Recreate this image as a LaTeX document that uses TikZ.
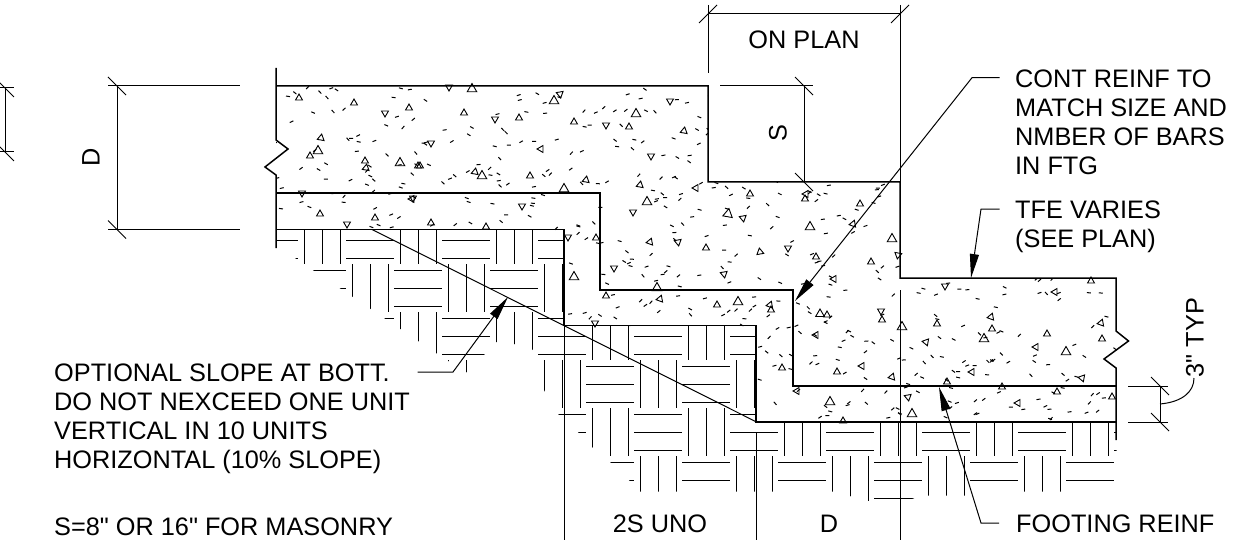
\documentclass[tikz,border=0pt]{standalone}
\usepackage{fontspec}
\setmainfont[Ligatures=TeXOff]{Liberation Sans}
\usetikzlibrary{arrows.meta}
\tikzset{
    outline/.style={line width=1.5pt},
    rebar/.style={line width=2.6pt},
    thin line/.style={line width=1pt},
    soil/.style={line width=1pt},
    chip/.style={line width=1pt},
    stone/.style={line width=0.9pt},
    leader/.style={line width=1pt,-{Triangle[length=24pt,width=9pt]}},
    note/.style={anchor=north west,inner sep=0pt,align=left,font=\fontsize{25.3}{29}\selectfont},
    label/.style={inner sep=0pt,font=\fontsize{25.3}{29}\selectfont}
}

\begin{document}
\begin{tikzpicture}[x=1pt,y=-1pt]
    \clip (0,0) rectangle (1244,540);

    % Concrete chips
    \pgfmathsetseed{417}
    \begin{scope}
        \clip (276,86) -- (708,86) -- (708,182) -- (900,182) -- (900,278) -- (1116,278) -- (1116,422) -- (756,422) -- (756,326) -- (564,326) -- (564,230) -- (276,230) -- cycle;
        \foreach \n in {1,...,820}{
            \pgfmathsetmacro{\cx}{265+851*rnd}
            \pgfmathsetmacro{\cy}{86+336*rnd}
            \pgfmathsetmacro{\ca}{-50+100*rnd}
            \draw[chip] (\cx,\cy) -- ++(\ca:4);
        }
    \end{scope}

    % Concrete stones
    \foreach \x/\y/\s/\r in {299/98/4/90,354/103/4/90,385/113/4/30,409/108/4/90,321/138/4/80,318/151/5.5/90,310/156/4/90,
        365/161/4/90,366/168/4/80,400/163/5.5/90,418/166/4/90,302/193/4/30,412/199/4/60,320/214/4/90,347/224/4/30,375/218/4/90,
        449/87/4/30,472/89/5.5/90,560/94/4/40,554/101/5.5/90,670/101/4/30,464/113/4/90,495/119/4/30,519/118/4/90,574/122/4/90,
        606/125/4/30,636/114/5.5/90,629/127/4/90,684/131/4/80,431/143/4/30,541/149/4/60,651/156/4/30,420/166/4/90,475/172/4/80,
        482/176/5.5/90,530/176/4/90,586/180/4/80,564/189/5.5/90,640/185/4/80,696/188/4/60,647/202/5.5/90,633/212/4/30,413/198/4/30,
        522/206/4/30,431/223/4/90,486/227/4/90,750/194/4/90,728/214/5.5/80,743/218/4/40,568/237/4/30,596/238/4/90,650/242/4/70,
        678/242/4/40,706/248/4/90,760/252/4/100,788/248/4/30,614/268/4/30,574/277/5.5/90,724/274/4/40,657/288/5.5/90,606/296/4/90,
        660/299/4/70,717/305/4/90,738/302/5.5/90,770/305/4/70,771/310/4/90,595/323/4/30,806/194/4/60,805/199/4/90,810/227/5.5/90,
        860/204/4/90,853/224/4/70,892/239/5.5/90,816/257/4/90,871/262/4/90,898/255/4/20,834/279/4/60,945/286/4/30,1091/281/4/90,
        1055/292/4/60,820/314/5/90,827/315/4/90,881/311/4/30,882/320/4/90,902/327/5.5/90,816/335/4/60,937/324/4/90,991/317/4/70,
        992/329/4/90,1047/334/4/90,1101/323/4/70,1102/339/4/90,926/342/4/50,984/339/5.5/90,1036/347/4/60,1066/352/5.5/90,782/368/4/90,
        837/372/4/90,862/366/4/60,892/377/4/70,972/372/4/60,947/382/4/90,1082/378/4/50,1002/387/4/90,797/391/4/60,908/397/4/40,
        1057/392/4/90,1112/397/4/90,830/402/5.5/90,1018/403/4/60,912/414/5.5/90,843/421/4/90}{
        \draw[stone] ({\x+\s*cos(\r)},{\y-\s*sin(\r)}) -- ({\x+\s*cos(\r+120)},{\y-\s*sin(\r+120)}) -- ({\x+\s*cos(\r+240)},{\y-\s*sin(\r+240)}) -- cycle;
    }

    % Soil hatch
    \begin{scope}
        \clip (276,230) -- (564,230) -- (564,325.5) -- (756,325.5) -- (756,422) -- (1116.5,422) -- (1116.5,491.7) -- (985,491.7) -- (970,495.5) -- (920,495.5) -- (911,499.5) -- (867,501) -- (835,491.7) -- (640,491.7) -- (628,479) -- (609,461) -- (592,447) -- (577,431) -- (557,413) -- (540,383) -- (540,360) -- (536,354) -- (532,349) -- (514,344) -- (496,342) -- (484,355) -- (466,372.5) -- (436,353) -- (295,258) -- (276,245) -- cycle;
        \foreach \i in {0,...,9}{
            \foreach \j in {0,1,2}{
                \begin{scope}[shift={({96*\i},{96*\j})}]
                    \foreach \k in {0,18,36}{
                        \draw[soil] (208+\k,216) -- (208+\k,264);
                        \draw[soil] (256+\k,264) -- (256+\k,312);
                        \draw[soil] (250,222+\k) -- (298,222+\k);
                        \draw[soil] (298,270+\k) -- (346,270+\k);
                    }
                \end{scope}
            }
        }
    \end{scope}

    % Footing outline
    \draw[outline] (276,68) -- (276,140) -- (288,149) -- (265,167) -- (276,175) -- (276,248);
    \draw[outline] (276,86) -- (708,86) -- (708,182) -- (900,182) -- (900,278) -- (1116,278) -- (1116,331) -- (1128.5,341) -- (1104,359) -- (1116,368) -- (1116,440);
    \draw[outline] (276,229.5) -- (564,229.5) -- (564,325.5) -- (756,325.5) -- (756,422) -- (1116,422);
    \draw[thin line] (372,229.5) -- (756,421.7);

    % Reinforcing
    \draw[rebar] (276,193) -- (600,193) -- (600,290) -- (793,290) -- (793,386) -- (1116,386);

    % Dimension lines
    \draw[thin line] (0,88) -- (14,88) (0,152) -- (14,152) (5,88) -- (5,152);
    \draw[thin line] (108,86) -- (240,86) (108,229.5) -- (240,229.5) (117,86) -- (117,229.5);
    \draw[thin line] (720,86) -- (813,86) (804,86) -- (804,182);
    \draw[thin line] (708,5) -- (708,73) (900,5) -- (900,182) (708,14) -- (900,14);
    \draw[thin line] (564,326) -- (564,540) (756,433) -- (756,540) (900,290) -- (900,540);
    \draw[thin line] (1128,386) -- (1168,386) (1128,422) -- (1168,422) (1160,386) -- (1160,422);
    \foreach \x/\y in {5/88,5/152,117/86,117/229.5,804/86,804/182,1160/386,1160/422}{
        \draw[thin line] (\x-9,\y-9) -- (\x+9,\y+9);
    }
    \foreach \x in {708,900}{
        \draw[thin line] (\x-9,23) -- (\x+9,5);
    }
    \draw[thin line] (1160,404) .. controls (1182,402) and (1194,392) .. (1194,378);

    % Dimension labels
    \node[label,rotate=90] (dimdepth) at (91,157.5) {D};
    \node[label,rotate=90] (dimstep) at (778,133) {S};
    \node[label] (onplan) at (804,40) {ON PLAN};
    \node[label] (uno) at (660,524) {2S UNO};
    \node[label] (dimd) at (829,523.5) {D};
    \node[label,rotate=90] (typ) at (1195,337.5) {3" TYP};

    % Notes
    \node[note] (contnote) at (1015,70) {CONT REINF TO\\MATCH SIZE AND\\NMBER OF BARS\\IN FTG};
    \node[note] (tfenote) at (1015,201) {TFE VARIES\\(SEE PLAN)};
    \node[note] (slopenote) at (54,363.5) {OPTIONAL SLOPE AT BOTT.\\DO NOT NEXCEED ONE UNIT\\VERTICAL IN 10 UNITS\\HORIZONTAL (10\% SLOPE)};
    \node[note] (masonrynote) at (54,518) {S=8" OR 16" FOR MASONRY};
    \node[note] (footnote) at (1016,515) {FOOTING REINF};

    % Leaders
    \coordinate (conttail) at (999.5,77.7);
    \coordinate (contbend) at (972,77.7);
    \coordinate (conttip) at (795,301);
    \coordinate (tfetail) at (999.5,209);
    \coordinate (tfebend) at (981,209);
    \coordinate (tfetip) at (971,278);
    \coordinate (slopetail) at (417.5,372);
    \coordinate (slopebend) at (453,372);
    \coordinate (slopetip) at (508,297);
    \coordinate (foottail) at (999,523);
    \coordinate (footbend) at (981,523);
    \coordinate (foottip) at (939,387);
    \draw[leader] (conttail) -- (contbend) -- (conttip);
    \draw[leader] (tfetail) -- (tfebend) -- (tfetip);
    \draw[leader] (slopetail) -- (slopebend) -- (slopetip);
    \draw[leader] (foottail) -- (footbend) -- (foottip);
\end{tikzpicture}
\end{document}
